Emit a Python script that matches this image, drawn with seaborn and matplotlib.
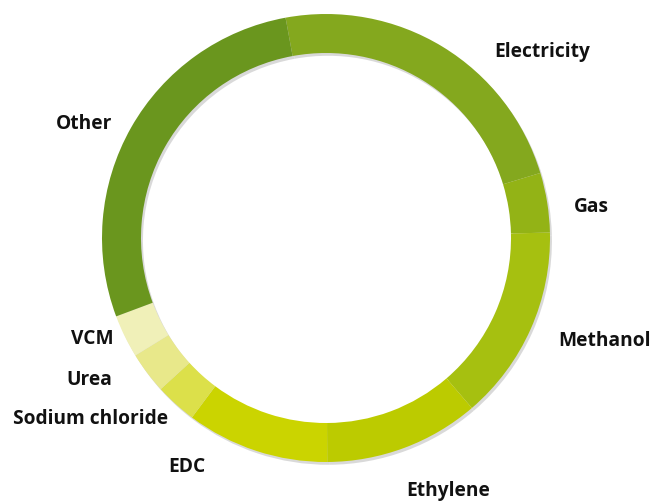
import matplotlib.pyplot as plt
import seaborn as sns

# share of each source (percent), clockwise from the top
categories = ["Electricity", "Gas", "Methanol", "Ethylene", "EDC",
              "Sodium chloride", "Urea", "VCM", "Other"]
shares = [23.2, 4.3, 14.1, 11.2, 10.3, 3.0, 3.0, 3.1, 27.8]
colors = ["#84a81e", "#93b316", "#a6c010", "#bccb00", "#cbd400",
          "#dce04a", "#e8e88a", "#f0f0b8", "#6a961e"]

# label anchor points (pixel space, y up)
label_pos = [(542, 452), (591, 297), (604, 163), (448, 13), (187, 37),
             (91, 85), (89, 124), (92, 165), (84, 380)]

sns.set_theme(style="white")
plt.rcParams['font.family'] = ['Open Sans', 'DejaVu Sans']

fig = plt.figure(figsize=(6.54, 5.04), dpi=100)
ax = fig.add_axes([0, 0, 1, 1])
ax.set_xlim(0, 654)
ax.set_ylim(0, 504)
ax.set_aspect('equal')
ax.axis('off')

ax.pie(shares, colors=colors, center=(326, 266), radius=224,
       startangle=100.4, counterclock=False,
       wedgeprops=dict(width=39, linewidth=0),
       shadow={'ox': 1.4, 'oy': -2.0, 'facecolor': '#d0d0d0',
               'edgecolor': '#d0d0d0', 'alpha': 0.8})
ax.set_xlim(0, 654)
ax.set_ylim(0, 504)

for name, (x, y) in zip(categories, label_pos):
    ax.text(x, y, name, ha='center', va='center', fontsize=13.8,
            fontweight='bold', color='#111111')

fig.savefig("out.png", dpi=100)
